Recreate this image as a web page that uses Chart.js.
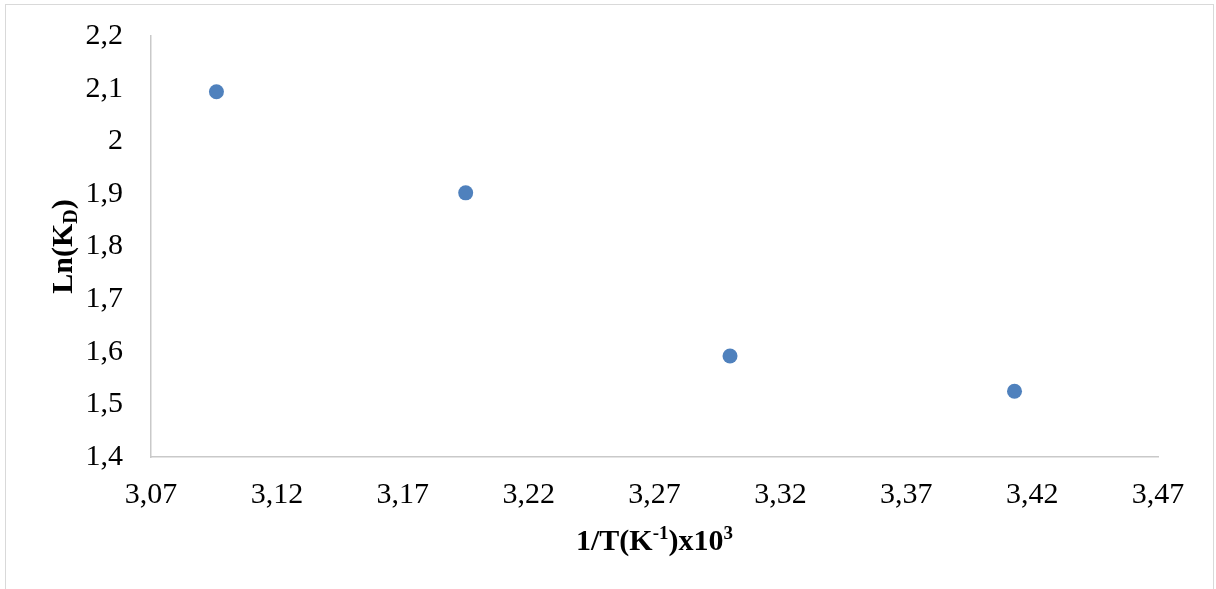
<!DOCTYPE html>
<html>
<head>
<meta charset="utf-8">
<script src="https://cdn.jsdelivr.net/npm/chart.js@4/dist/chart.umd.min.js"></script>
<style>
  html, body { margin: 0; padding: 0; background: #fff; }
  #wrap { position: relative; width: 1216px; height: 589px; overflow: hidden; }
  #frame { position: absolute; left: 5px; top: 4px; width: 1207px; height: 600px; border: 1px solid #d9d9d9; }
  canvas { position: absolute; left: 0; top: 0; }
</style>
</head>
<body>
<div id="wrap">
  <div id="frame"></div>
  <canvas id="chart" width="1216" height="589"></canvas>
</div>
<script>
// 1/T (K^-1) x 10^3 and Ln(KD)
const invTemp = [3.096, 3.195, 3.300, 3.413];
const lnKd = [2.094, 1.902, 1.592, 1.525];

const xMin = 3.07, xMax = 3.47, xStep = 0.05;
const yMin = 1.4, yMax = 2.2, yStep = 0.1;

const serif = '"Liberation Serif", "Times New Roman", serif';
const axisColor = '#c9c9c9';
const dotColor = '#4f81bd';

// draws a title made of normal / raised / lowered pieces
function drawPieces(ctx, pieces, cx, cy) {
  let total = 0;
  pieces.forEach(p => {
    ctx.font = 'bold ' + p.size + 'px ' + serif;
    p.w = ctx.measureText(p.text).width;
    total += p.w;
  });
  let x = cx - total / 2;
  pieces.forEach(p => {
    ctx.font = 'bold ' + p.size + 'px ' + serif;
    ctx.fillText(p.text, x, cy + p.dy);
    x += p.w;
  });
}

const axisTitles = {
  id: 'axisTitles',
  afterDraw(chart) {
    const { ctx, chartArea } = chart;
    ctx.save();
    ctx.fillStyle = '#000';
    ctx.textBaseline = 'alphabetic';
    ctx.textAlign = 'left';

    // x title
    drawPieces(ctx, [
      { text: '1/T(K', size: 30, dy: 0 },
      { text: '-1', size: 19, dy: -11 },
      { text: ')x10', size: 30, dy: 0 },
      { text: '3', size: 19, dy: -11 }
    ], (chartArea.left + chartArea.right) / 2, 550);

    // y title, rotated
    ctx.translate(72, (chartArea.top + chartArea.bottom) / 2);
    ctx.rotate(-Math.PI / 2);
    drawPieces(ctx, [
      { text: 'Ln(K', size: 30, dy: 0 },
      { text: 'D', size: 20, dy: 5 },
      { text: ')', size: 30, dy: 0 }
    ], 0, 0);
    ctx.restore();
  }
};

new Chart(document.getElementById('chart'), {
  type: 'scatter',
  data: {
    datasets: [{
      label: 'Ln(KD)',
      data: invTemp.map((x, i) => ({ x: x, y: lnKd[i] })),
      backgroundColor: dotColor,
      borderColor: dotColor,
      borderWidth: 0,
      pointRadius: 7.5,
      pointHoverRadius: 7.5
    }]
  },
  options: {
    responsive: false,
    animation: false,
    events: [],
    layout: { padding: { top: 36, right: 58, left: 0, bottom: 0 } },
    plugins: {
      legend: { display: false },
      tooltip: { enabled: false }
    },
    scales: {
      x: {
        type: 'linear',
        min: xMin,
        max: xMax,
        grid: { display: false, drawTicks: false },
        border: { display: true, color: axisColor, width: 1.5 },
        ticks: {
          stepSize: xStep,
          autoSkip: false,
          maxRotation: 0,
          padding: 20,
          color: '#000',
          font: { family: serif, size: 30 },
          callback: v => v.toFixed(2).replace('.', ',')
        },
        afterFit(scale) { scale.height = 132; }
      },
      y: {
        type: 'linear',
        min: yMin,
        max: yMax,
        grid: { display: false, drawTicks: false },
        border: { display: true, color: axisColor, width: 1.5 },
        ticks: {
          stepSize: yStep,
          autoSkip: false,
          padding: 28,
          color: '#000',
          font: { family: serif, size: 30 },
          callback: v => String(+v.toFixed(1)).replace('.', ',')
        },
        afterFit(scale) {
          scale.width = 151;
          scale.paddingTop = 0;
          scale.paddingBottom = 0;
        }
      }
    }
  },
  plugins: [axisTitles]
});
</script>
</body>
</html>
